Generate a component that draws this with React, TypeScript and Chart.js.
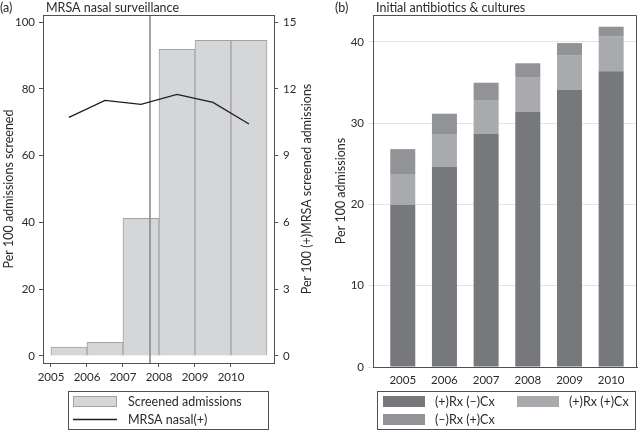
import React, { useEffect, useRef } from "react";
import { Chart, registerables } from "chart.js";

Chart.register(...registerables);

// ---------- Panel (a) data ----------
const years = [2005, 2006, 2007, 2008, 2009, 2010];
const screenedPer100 = [2.7, 4.1, 41.2, 91.8, 94.5, 94.5];
const mrsaPositivePer100 = [10.72, 11.48, 11.3, 11.75, 11.39, 10.42];
const interventionYear = 2007.75;
const leftTicks = [0, 20, 40, 60, 80, 100];
const rightTicks = [0, 3, 6, 9, 12, 15];

// ---------- Panel (b) data ----------
const rxPosCxNeg = [19.96, 24.6, 28.66, 31.37, 34.1, 36.37];
const rxPosCxPos = [3.78, 4.06, 4.18, 4.3, 4.19, 4.26];
const rxNegCxPos = [3.06, 2.5, 2.13, 1.69, 1.56, 1.23];
const panelBTicks = [0, 10, 20, 30, 40];

const FONT = "Lato, 'Open Sans', sans-serif";
const FS = 12.5;
const FT = 11.5;
const TEXT = "#2a2a2a";
const AXIS = "#505050";

const HIST_FILL = "#d5d6d8";
const HIST_EDGE = "#a2a3a5";
const DARK = "#76787b";
const LIGHT = "#a8aaad";
const MID = "#919396";

function setFont(ctx: CanvasRenderingContext2D) {
  ctx.font = `${FS}px ${FONT}`;
  ctx.fillStyle = TEXT;
  ctx.textBaseline = "middle";
  ctx.textAlign = "left";
}

function makePanelA(canvas: HTMLCanvasElement) {
  const yMin = -2.1;
  const yMax = 102.1;
  const y2Min = yMin * 0.15;
  const y2Max = yMax * 0.15;

  const deco = {
    id: "decoA",
    afterDraw(chart: any) {
      const ctx: CanvasRenderingContext2D = chart.ctx;
      const a = chart.chartArea;
      ctx.save();
      // top frame line
      ctx.strokeStyle = AXIS;
      ctx.lineWidth = 1;
      ctx.beginPath();
      ctx.moveTo(a.left, Math.round(a.top) + 0.5);
      ctx.lineTo(a.right, Math.round(a.top) + 0.5);
      ctx.stroke();

      setFont(ctx);
      ctx.fillText("(a)", 0, 8);
      ctx.fillText("MRSA nasal surveillance", 46, 8);

      // right axis title (reads bottom to top)
      ctx.save();
      ctx.translate(307, (a.top + a.bottom) / 2);
      ctx.rotate(-Math.PI / 2);
      ctx.textAlign = "center";
      ctx.fillText("Per 100 (+)MRSA screened admissions", 0, 0);
      ctx.restore();

      // legend
      const ds = chart.data.datasets;
      ctx.strokeStyle = AXIS;
      ctx.strokeRect(68.5, 391.5, 200, 38);
      ctx.fillStyle = ds[0].backgroundColor;
      ctx.fillRect(73, 396, 44, 11);
      ctx.strokeStyle = ds[0].borderColor;
      ctx.strokeRect(73.5, 396.5, 43, 10);
      ctx.strokeStyle = ds[1].borderColor;
      ctx.lineWidth = 1.3;
      ctx.beginPath();
      ctx.moveTo(73, 419.5);
      ctx.lineTo(117, 419.5);
      ctx.stroke();
      setFont(ctx);
      ctx.fillText(ds[0].label, 128, 402);
      ctx.fillText(ds[1].label, 128, 420);
      ctx.restore();
    },
  };

  return new Chart(canvas, {
    type: "bar",
    data: {
      datasets: [
        {
          type: "bar",
          label: "Screened admissions",
          data: years.map((y, i) => ({ x: y + 0.5, y: screenedPer100[i] })),
          backgroundColor: HIST_FILL,
          borderColor: HIST_EDGE,
          borderWidth: 1,
          barPercentage: 1,
          categoryPercentage: 1,
          yAxisID: "y",
          order: 3,
        } as any,
        {
          type: "line",
          label: "MRSA nasal(+)",
          data: years.map((y, i) => ({ x: y + 0.5, y: mrsaPositivePer100[i] })),
          borderColor: "#1e1e1e",
          borderWidth: 1.3,
          pointRadius: 0,
          tension: 0,
          yAxisID: "y2",
          order: 1,
        } as any,
        {
          type: "line",
          label: "intervention",
          data: [
            { x: interventionYear, y: yMin },
            { x: interventionYear, y: yMax },
          ],
          borderColor: "#8a8a8a",
          borderWidth: 1.6,
          pointRadius: 0,
          yAxisID: "y",
          order: 2,
        } as any,
      ],
    },
    options: {
      responsive: false,
      animation: false,
      events: [],
      layout: { padding: { top: 15, left: 0, right: 0, bottom: 0 } },
      plugins: { legend: { display: false }, tooltip: { enabled: false } },
      scales: {
        x: {
          type: "linear",
          offset: false,
          min: 2004.778,
          max: 2011.195,
          afterBuildTicks: (axis: any) => {
            axis.ticks = years.map((v) => ({ value: v }));
          },
          afterFit: (s: any) => {
            s.height = 68;
          },
          ticks: {
            callback: (v: any) => String(v),
            font: { family: FONT, size: FT },
            color: TEXT,
            padding: 3,
            maxRotation: 0,
          },
          grid: { offset: false, drawOnChartArea: false, tickLength: 4, color: AXIS },
          border: { display: true, color: AXIS },
        },
        y: {
          type: "linear",
          position: "left",
          min: yMin,
          max: yMax,
          afterBuildTicks: (axis: any) => {
            axis.ticks = leftTicks.map((v) => ({ value: v }));
          },
          afterFit: (s: any) => {
            s.width = 43;
          },
          ticks: { font: { family: FONT, size: FT }, color: TEXT, padding: 4 },
          grid: { drawOnChartArea: false, tickLength: 4, color: AXIS },
          border: { display: true, color: AXIS },
          title: {
            display: true,
            text: "Per 100 admissions screened",
            font: { family: FONT, size: FS },
            color: TEXT,
            padding: { top: 1, bottom: 0 },
          },
        },
        y2: {
          type: "linear",
          position: "right",
          min: y2Min,
          max: y2Max,
          afterBuildTicks: (axis: any) => {
            axis.ticks = rightTicks.map((v) => ({ value: v }));
          },
          afterFit: (s: any) => {
            s.width = 46;
          },
          ticks: { font: { family: FONT, size: FT }, color: TEXT, padding: 5 },
          grid: { drawOnChartArea: false, tickLength: 4, color: AXIS },
          border: { display: true, color: AXIS },
        },
      },
    },
    plugins: [deco],
  } as any);
}

function makePanelB(canvas: HTMLCanvasElement) {
  const deco = {
    id: "decoB",
    afterDraw(chart: any) {
      const ctx: CanvasRenderingContext2D = chart.ctx;
      const a = chart.chartArea;
      ctx.save();
      ctx.strokeStyle = AXIS;
      ctx.lineWidth = 1;
      ctx.beginPath();
      ctx.moveTo(a.left, Math.round(a.top) + 0.5);
      ctx.lineTo(Math.round(a.right) - 0.5, Math.round(a.top) + 0.5);
      ctx.lineTo(Math.round(a.right) - 0.5, a.bottom);
      ctx.stroke();

      setFont(ctx);
      ctx.fillText("(b)", 15, 8);
      ctx.fillText("Initial antibiotics & cultures", 56, 8);

      const ds = chart.data.datasets;
      ctx.strokeStyle = AXIS;
      ctx.strokeRect(57.5, 391.5, 258, 38);
      const items = [
        { d: ds[0], sx: 63, tx: 115, y: 396 },
        { d: ds[1], sx: 197, tx: 249, y: 396 },
        { d: ds[2], sx: 63, tx: 115, y: 414 },
      ];
      for (const it of items) {
        ctx.fillStyle = it.d.backgroundColor;
        ctx.fillRect(it.sx, it.y, 42, 11);
        setFont(ctx);
        ctx.fillText(it.d.label, it.tx, it.y + 6);
      }
      ctx.restore();
    },
  };

  const common = {
    barPercentage: 0.6,
    categoryPercentage: 1,
    borderWidth: 0,
  };

  return new Chart(canvas, {
    type: "bar",
    data: {
      datasets: [
        {
          label: "(+)Rx (\u2013)Cx",
          data: years.map((y, i) => ({ x: y, y: rxPosCxNeg[i] })),
          backgroundColor: DARK,
          ...common,
        },
        {
          label: "(+)Rx (+)Cx",
          data: years.map((y, i) => ({ x: y, y: rxPosCxPos[i] })),
          backgroundColor: LIGHT,
          ...common,
        },
        {
          label: "(\u2013)Rx (+)Cx",
          data: years.map((y, i) => ({ x: y, y: rxNegCxPos[i] })),
          backgroundColor: MID,
          ...common,
        },
      ],
    },
    options: {
      responsive: false,
      animation: false,
      events: [],
      layout: { padding: { top: 15, left: 0, right: 3, bottom: 0 } },
      plugins: { legend: { display: false }, tooltip: { enabled: false } },
      scales: {
        x: {
          type: "linear",
          stacked: true,
          offset: false,
          min: 2004.286,
          max: 2010.62,
          afterBuildTicks: (axis: any) => {
            axis.ticks = years.map((v) => ({ value: v }));
          },
          afterFit: (s: any) => {
            s.height = 64;
          },
          ticks: {
            callback: (v: any) => String(v),
            font: { family: FONT, size: FT },
            color: TEXT,
            padding: 6,
            maxRotation: 0,
          },
          grid: { offset: false, drawOnChartArea: false, drawTicks: false, color: AXIS },
          border: { display: true, color: AXIS },
        },
        y: {
          type: "linear",
          stacked: true,
          min: 0,
          max: 43.3,
          afterBuildTicks: (axis: any) => {
            axis.ticks = panelBTicks.map((v) => ({ value: v }));
          },
          afterFit: (s: any) => {
            s.width = 53;
          },
          ticks: { font: { family: FONT, size: FT }, color: TEXT, padding: 4 },
          grid: { color: "#e4e4e4", tickLength: 5 },
          border: { display: true, color: AXIS },
          title: {
            display: true,
            text: "Per 100 admissions",
            font: { family: FONT, size: FS },
            color: TEXT,
            padding: { top: 13, bottom: 0 },
          },
        },
      },
    },
    plugins: [deco],
  } as any);
}

export default function App() {
  const refA = useRef<HTMLCanvasElement>(null);
  const refB = useRef<HTMLCanvasElement>(null);

  useEffect(() => {
    const a = makePanelA(refA.current!);
    const b = makePanelB(refB.current!);
    return () => {
      a.destroy();
      b.destroy();
    };
  }, []);

  return (
    <div
      style={{
        position: "absolute",
        left: 0,
        top: 0,
        width: 640,
        height: 431,
        background: "#fff",
        overflow: "hidden",
      }}
    >
      <canvas
        ref={refA}
        width={320}
        height={431}
        style={{ position: "absolute", left: 0, top: 0, width: 320, height: 431 }}
      />
      <canvas
        ref={refB}
        width={320}
        height={431}
        style={{ position: "absolute", left: 320, top: 0, width: 320, height: 431 }}
      />
    </div>
  );
}
